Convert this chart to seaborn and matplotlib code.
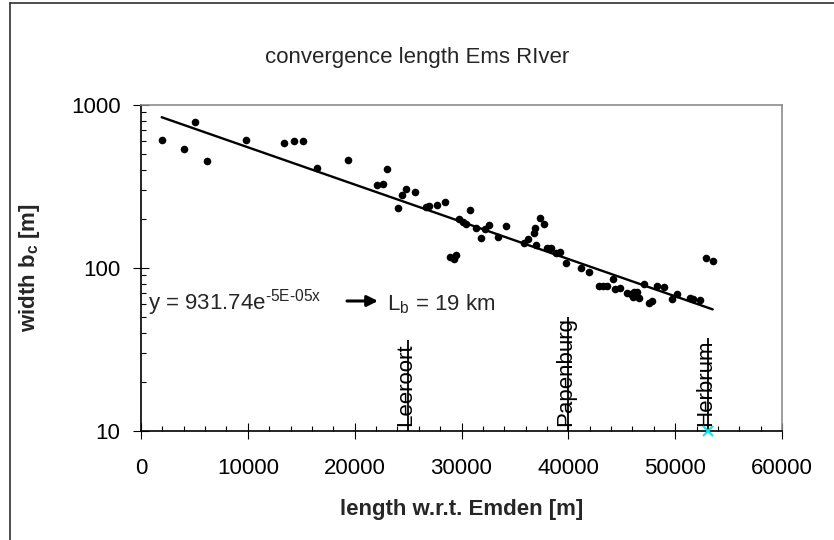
import numpy as np
import pandas as pd
import matplotlib
matplotlib.use("Agg")
import matplotlib.pyplot as plt
import seaborn as sns
from matplotlib.ticker import MultipleLocator, FixedLocator, LogLocator, NullFormatter, FuncFormatter
from matplotlib.lines import Line2D
from matplotlib import transforms

# Measured channel widths along the Ems, distance from Emden [m] and width [m]
distance_m = [1935, 3990, 5020, 6170, 9790, 13400, 14330, 15180, 16520, 19330,
              22130, 22630, 23030, 24060, 24470, 24810, 25650, 26680, 26990, 27700,
              28420, 28960, 29270, 29460, 29760, 30130, 30390, 30830, 31320, 31850,
              32160, 32570, 33410, 34130, 35810, 36220, 36750, 36910, 36990, 37370,
              37680, 37990, 38340, 38800, 39180, 39800, 41140, 41890, 42850, 43230,
              43640, 44160, 44410, 44790, 45510, 45820, 46040, 46130, 46410, 46660,
              47060, 47590, 47810, 48270, 48930, 49680, 50180, 51400, 51640, 52360,
              52890, 53510]
width_m = [610, 537, 783, 453, 610, 582, 601, 601, 411, 460,
           322, 326, 407, 234, 279, 307, 293, 236, 240, 244,
           254, 117, 114, 121, 199, 191, 187, 227, 175, 153,
           174, 184, 156, 181, 143, 150, 165, 175, 138, 202,
           185, 133, 132, 123, 126, 108, 99.6, 94.5, 77.6, 77.6,
           77.6, 85.9, 74.3, 75.7, 70.6, 68.9, 66.1, 71.0, 71.6, 65.2,
           79.8, 60.7, 63.0, 77.6, 76.2, 64.5, 69.3, 65.2, 64.5, 63.6,
           114.7, 110.9]

# Exponential fit b = a * exp(-x / Lb)
fit_a = 931.74
fit_Lb_m = 19000

# Stations along the river
station_names = ["Leeroort", "Papenburg", "Herbrum"]
station_x = [25000, 40000, 53100]
station_top = [36.1, 50.0, 37.2]

x_ticks = [0, 10000, 20000, 30000, 40000, 50000, 60000]
y_ticks = [10, 100, 1000]

sns.set_theme(style="ticks")
plt.rcParams["font.family"] = ["Liberation Sans", "DejaVu Sans"]
plt.rcParams["mathtext.fontset"] = "custom"
plt.rcParams["mathtext.rm"] = "Liberation Sans"
plt.rcParams["mathtext.it"] = "Liberation Sans:italic"
plt.rcParams["mathtext.bf"] = "Liberation Sans:bold"

FS = 16

fig = plt.figure(figsize=(8.34, 5.4), dpi=100)
fig.patch.set_facecolor("white")
ax = fig.add_axes([141 / 834, 109 / 540, 641 / 834, 326 / 540])

df = pd.DataFrame({"distance": distance_m, "width": width_m})
sns.scatterplot(data=df, x="distance", y="width", ax=ax, color="black",
                s=30, linewidth=0, zorder=3)

xs = np.linspace(min(distance_m), max(distance_m), 300)
fit = pd.DataFrame({"distance": xs, "width": fit_a * np.exp(-xs / fit_Lb_m)})
sns.lineplot(data=fit, x="distance", y="width", ax=ax, color="black",
             linewidth=1.7, zorder=2)

ax.set_yscale("log")
ax.set_xlim(0, 60000)
ax.set_ylim(10, 1000)

ax.xaxis.set_major_locator(FixedLocator(x_ticks))
ax.xaxis.set_minor_locator(MultipleLocator(2000))
ax.xaxis.set_major_formatter(FuncFormatter(lambda v, p: f"{v:.0f}"))
ax.yaxis.set_major_locator(FixedLocator(y_ticks))
ax.yaxis.set_minor_locator(LogLocator(base=10, subs=np.arange(2, 10)))
ax.yaxis.set_major_formatter(FuncFormatter(lambda v, p: f"{v:.0f}"))
ax.yaxis.set_minor_formatter(NullFormatter())

ax.tick_params(which="major", direction="inout", length=11.5, width=0.8,
               color="black", labelsize=FS, labelcolor="black")
ax.tick_params(axis="y", which="major", pad=9)
ax.tick_params(axis="x", which="major", pad=14)
ax.tick_params(which="minor", direction="in", length=3.6, width=0.8, color="black")
ax.tick_params(top=False, right=False, which="both")

for side in ["left", "bottom"]:
    ax.spines[side].set_color("black")
    ax.spines[side].set_linewidth(1.2)
for side in ["top", "right"]:
    ax.spines[side].set_color("#8c8c8c")
    ax.spines[side].set_linewidth(1.2)

ax.set_xlabel("length w.r.t. Emden [m]", fontsize=FS, fontweight="bold")
ax.xaxis.set_label_coords(0.5, (431 - 510) / 326)
ax.xaxis.label.set_va("center")
ax.set_ylabel(r"width b$_\mathbf{c}$ [m]", fontsize=FS, fontweight="bold")
ax.yaxis.set_label_coords((30 - 141) / 641, 0.5)
ax.yaxis.label.set_va("center")

fig.text(0.5, 1 - 57 / 540, "convergence length Ems RIver", fontsize=FS,
         ha="center", va="center")

# Fit equation and the resulting convergence length
ax.text((148 - 141) / 641, (431 - 310) / 326,
        r"y = 931.74e$^{\text{-5E-05x}}$", transform=ax.transAxes,
        fontsize=FS, ha="left", va="baseline")
ax.annotate("", xy=((378 - 141) / 641, (431 - 301) / 326),
            xytext=((347 - 141) / 641, (431 - 301) / 326),
            xycoords="axes fraction", textcoords="axes fraction",
            arrowprops=dict(arrowstyle="-|>", color="black", lw=2.2,
                            mutation_scale=16, shrinkA=0, shrinkB=0))
ax.text((387 - 141) / 641, (431 - 310) / 326,
        r"L$_\mathrm{b}$ = " + f"{fit_Lb_m / 1000:.0f} km",
        transform=ax.transAxes, fontsize=FS, ha="left", va="baseline")

# Station markers with vertical names
label_tr = transforms.offset_copy(ax.transData, fig=fig, x=3, y=5, units="dots")
for name, sx, top in zip(station_names, station_x, station_top):
    ax.vlines(sx, 10, top, color="black", linewidth=1.3, zorder=4)
    ax.text(sx, 10, name, transform=label_tr, rotation=90,
            rotation_mode="anchor", ha="left", va="baseline",
            fontsize=FS, color="black", zorder=4)

ax.plot([station_x[2]], [10], marker="x", color="#00e5ee", markersize=7,
        markeredgewidth=1.4, clip_on=False, zorder=5, linestyle="none")

# Chart-area frame
fig.add_artist(Line2D([10 / 834, 10 / 834], [0, 1 - 3 / 540],
                      transform=fig.transFigure, color="#303030", linewidth=1.2))
fig.add_artist(Line2D([10 / 834, 1], [1 - 3 / 540, 1 - 3 / 540],
                      transform=fig.transFigure, color="#303030", linewidth=1.2))

fig.savefig("out.png", dpi=100, facecolor="white")
